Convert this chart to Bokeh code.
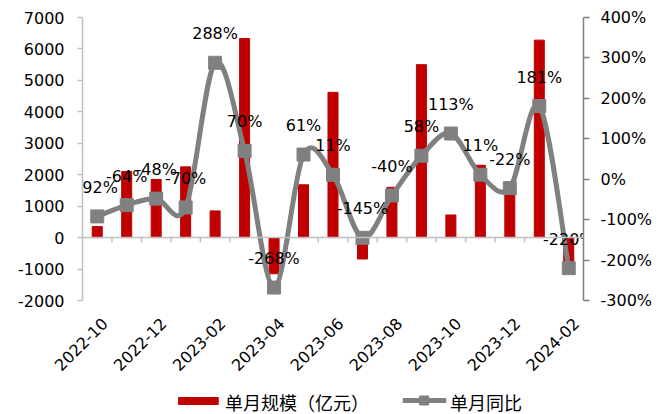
from bokeh.plotting import figure
from bokeh.layouts import column
from bokeh.models import (Range1d, LinearAxis, FixedTicker, PrintfTickFormatter,
                          ColumnDataSource, Span)
from bokeh.core.properties import value
from bokeh.embed import file_html
from bokeh.resources import INLINE
from math import pi

# Monthly scale (亿元) and year-on-year change (%)
months = ["2022-10", "2022-11", "2022-12", "2023-01", "2023-02", "2023-03",
          "2023-04", "2023-05", "2023-06", "2023-07", "2023-08", "2023-09",
          "2023-10", "2023-11", "2023-12", "2024-01", "2024-02"]
scale = [350, 2100, 1850, 2250, 850, 6330, -1150, 1680, 4620, -680,
         1600, 5500, 720, 2300, 1400, 6280, -780]
yoy = [-92, -64, -48, -70, 288, 70, -268, 61, 11, -145, -40, 58, 113,
       11, -22, 181, -220]
shown_months = months[::2]
series_names = ["单月规模（亿元）", "单月同比"]

FONT = "DejaVu Sans"
FSIZE = "16px"
CJK = "Noto Sans CJK SC"
RED = "#C00000"
GREY = "#808080"
LIGHT = "#BFBFBF"

n = len(months)
xs = list(range(n))

p = figure(width=657, height=384, output_backend="svg", toolbar_location=None,
           x_range=Range1d(-0.5, n - 0.5), y_range=Range1d(-2000, 7000),
           min_border_left=82, min_border_right=74, min_border_top=17,
           min_border_bottom=84)
p.extra_y_ranges = {"pct": Range1d(-300, 400)}
p.outline_line_color = None
p.xgrid.visible = False
p.ygrid.visible = False
p.background_fill_color = "white"

# bars
bars = p.vbar(x=xs, top=scale, width=0.34, color=RED)

# zero line with category boundary ticks
p.add_layout(Span(location=0, dimension="width", line_color=LIGHT, line_width=1.5))
bounds = [i + 0.5 for i in range(n - 1)]
p.segment(x0=bounds, y0=[0] * len(bounds), x1=bounds, y1=[-150] * len(bounds),
          line_color=LIGHT, line_width=1.5)

# smoothed YoY curve: Catmull-Rom segments as cubic Beziers
t = 1.0 / 6.0
def pt(i):
    i = max(0, min(n - 1, i))
    return xs[i], yoy[i]
bx0, by0, bx1, by1, cx0, cy0, cx1, cy1 = [], [], [], [], [], [], [], []
for i in range(n - 1):
    xa, ya = pt(i - 1)
    xb, yb = pt(i)
    xc, yc = pt(i + 1)
    xd, yd = pt(i + 2)
    bx0.append(xb); by0.append(yb)
    bx1.append(xc); by1.append(yc)
    cx0.append(xb + (xc - xa) * t); cy0.append(yb + (yc - ya) * t)
    cx1.append(xc - (xd - xb) * t); cy1.append(yc - (yd - yb) * t)
curve = p.bezier(x0=bx0, y0=by0, x1=bx1, y1=by1, cx0=cx0, cy0=cy0, cx1=cx1, cy1=cy1,
                 line_color=GREY, line_width=5, y_range_name="pct")
pts = p.scatter(x=xs, y=yoy, marker="square", size=13, color=GREY, y_range_name="pct")

# value labels
lab_src = ColumnDataSource(dict(x=xs, y=yoy, t=[f"{v}%" for v in yoy]))
p.text(x="x", y="y", text="t", source=lab_src, y_range_name="pct",
       text_align="center", text_baseline="middle", y_offset=-29,
       text_font=value(FONT), text_font_size=FSIZE, text_color="black")

# left axis
ax = p.yaxis[0]
ax.ticker = FixedTicker(ticks=list(range(-2000, 7001, 1000)))
ax.formatter = PrintfTickFormatter(format="%d")
ax.axis_line_color = LIGHT
ax.axis_line_width = 1.5
ax.major_tick_line_color = LIGHT
ax.major_tick_line_width = 1.5
ax.major_tick_out = 5
ax.major_tick_in = 0
ax.minor_tick_line_color = None
ax.major_label_standoff = 13
ax.major_label_text_font = FONT
ax.major_label_text_font_size = FSIZE
ax.major_label_text_color = "black"

# right axis
ra = LinearAxis(y_range_name="pct",
                ticker=FixedTicker(ticks=list(range(-300, 401, 100))),
                formatter=PrintfTickFormatter(format="%d%%"))
ra.axis_line_color = GREY
ra.axis_line_width = 1.5
ra.major_tick_line_color = GREY
ra.major_tick_line_width = 1.5
ra.major_tick_out = 6
ra.major_tick_in = 0
ra.minor_tick_line_color = None
ra.major_label_standoff = 11
ra.major_label_text_font = FONT
ra.major_label_text_font_size = FSIZE
ra.major_label_text_color = "black"
p.add_layout(ra, "right")

# bottom axis: rotated month labels
xa = p.xaxis[0]
pos = [i + 0.25 for i in range(0, n, 2)]
xa.ticker = FixedTicker(ticks=pos)
xa.major_label_overrides = {q: m for q, m in zip(pos, shown_months)}
xa.major_label_orientation = pi / 4
xa.axis_line_color = None
xa.major_tick_line_color = None
xa.minor_tick_line_color = None
xa.major_label_standoff = 14
xa.major_label_text_font = FONT
xa.major_label_text_font_size = FSIZE
xa.major_label_text_color = "black"

# legend strip (pixel coordinates, origin at the bottom-left)
lg = figure(width=657, height=30, output_backend="svg", toolbar_location=None,
            x_range=Range1d(0, 657), y_range=Range1d(0, 30),
            x_axis_location=None, y_axis_location=None, min_border=0)
lg.outline_line_color = None
lg.xgrid.visible = False
lg.ygrid.visible = False
lg.quad(left=126, right=178, bottom=10, top=17, color=RED)
lg.line(x=[420, 477], y=[14, 14], line_color=GREY, line_width=5)
lg.rect(x=448, y=14, width=12, height=9, color=GREY)
lg.text(x=[187, 482], y=[13, 13], text=series_names,
        text_align="left", text_baseline="middle",
        text_font=value(CJK), text_font_size="18px", text_color="black")

open("out.html", "w").write(file_html(column(p, lg, spacing=0), INLINE))
